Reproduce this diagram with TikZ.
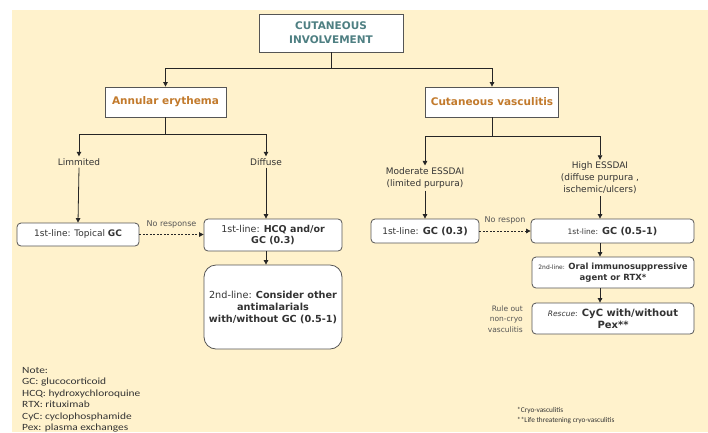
\documentclass[tikz,border=0pt]{standalone}
\usepackage{fontspec}
\setmainfont{DejaVu Sans}
\newfontfamily\notefont[FakeStretch=1.2]{Carlito}
\newfontfamily\footfont{Carlito}
\usetikzlibrary{arrows.meta}

\definecolor{bgcream}{HTML}{FFF2CC}
\definecolor{titleteal}{HTML}{4E7F82}
\definecolor{headorange}{HTML}{C27A2C}
\definecolor{edgegrey}{HTML}{555555}
\definecolor{textgrey}{HTML}{333333}
\definecolor{softgrey}{HTML}{555555}

\newcommand{\fs}[1]{\fontsize{#1}{#1}\selectfont}

\tikzset{
  box/.style={draw=edgegrey, fill=white, line width=0.8pt, rounded corners=4pt,
    align=center, inner sep=1pt, text=textgrey,
    font=\fontsize{9.5}{11.5}\selectfont},
  headbox/.style={draw=edgegrey, fill=white, line width=0.8pt, align=center,
    inner sep=2pt, text=headorange, font=\bfseries\fontsize{10.5}{12}\selectfont},
  lbl/.style={align=center, inner sep=2pt, text=textgrey,
    font=\fontsize{9}{12}\selectfont},
  small/.style={align=center, inner sep=1pt, text=softgrey,
    font=\fontsize{8}{9}\selectfont},
  wire/.style={draw=black!85, line width=0.8pt},
  link/.style={wire, -{Triangle[length=4.5pt,width=4.5pt]}},
  dlink/.style={link, dash pattern=on 2pt off 1.5pt},
}

\begin{document}
\begin{tikzpicture}[x=1pt, y=-1pt]
  \useasboundingbox (0,0) rectangle (708,432);
  \fill[bgcream] (12,10) rectangle (708,432);

  % root
  \node[draw=edgegrey, fill=white, line width=0.8pt, minimum width=144pt,
        minimum height=38pt, align=center, text=titleteal,
        font=\bfseries\fontsize{10.5}{14}\selectfont] (top) at (331,33)
        {CUTANEOUS\\INVOLVEMENT};

  % two branches
  \node[headbox, minimum width=121pt, minimum height=30pt] (annular) at (165.5,102) {Annular erythema};
  \node[headbox, minimum width=133pt, minimum height=30pt] (vasc) at (492,102) {Cutaneous vasculitis};

  \coordinate (jt) at (331,68);
  \draw[wire] (top.south) -- (jt);
  \draw[link] (jt) -| (annular.north);
  \draw[link] (jt) -| (vasc.north);

  % annular erythema
  \node[lbl] (limm) at (79,162) {Limmited};
  \node[lbl] (diff) at (266,162) {Diffuse};
  \coordinate (ja) at (165.5,134);
  \draw[wire] (annular.south) -- (ja);
  \draw[link] (ja) -| (limm.north);
  \draw[link] (ja) -| (diff.north);

  \node[box, minimum width=122pt, minimum height=23pt, font=\fs{9}] (topical) at (78,234.5)
    {1st-line: Topical \textbf{GC}};
  \node[box, minimum width=138pt, minimum height=32pt] (hcq) at (273,235)
    {1st-line: \textbf{HCQ and/or}\\\textbf{GC (0.3)}};
  \node[box, rounded corners=12pt, minimum width=138pt, minimum height=84pt,
        font=\fontsize{9.7}{12}\selectfont] (second) at (273,307)
    {2nd-line: \textbf{Consider other}\\\textbf{antimalarials}\\\textbf{with/without GC (0.5-1)}};

  \draw[link] (limm.south) -- (topical.north);
  \draw[link] (diff.south) -- (diff.south |- hcq.north);
  \draw[link] (hcq.south -| diff) -- (second.north -| diff);
  \draw[dlink] (topical.east) -- (topical.east -| hcq.west)
    node[small, midway, above=5pt] {No response};

  % cutaneous vasculitis
  \node[lbl] (mod) at (425,178) {Moderate ESSDAI\\(limited purpura)};
  \node[lbl] (high) at (600,178) {High ESSDAI\\(diffuse purpura ,\\ischemic/ulcers)};
  \coordinate (jv) at (492,136);
  \draw[wire] (vasc.south) -- (jv);
  \draw[link] (jv) -| (mod.north);
  \draw[link] (jv) -| (high.north);

  \node[box, minimum width=108pt, minimum height=24pt] (gc03) at (425,231)
    {{\fs{9}1st-line:} {\fs{9.8}\textbf{GC (0.3)}}};
  \node[box, minimum width=163pt, minimum height=24pt] (gc051) at (612.5,231)
    {{\fs{7.5}1st-line:} {\fs{9.7}\textbf{GC (0.5-1)}}};
  \node[box, minimum width=162pt, minimum height=31pt, font=\fontsize{8.5}{11}\selectfont] (oral) at (613,272.5)
    {{\fs{6}2nd-line:} \textbf{Oral immunosuppressive}\\\textbf{agent or RTX*}};
  \node[box, minimum width=162pt, minimum height=31pt, font=\fontsize{10}{12}\selectfont] (rescue) at (613,318.5)
    {{\fs{7.5}\textit{Rescue}:} \textbf{CyC with/without}\\\textbf{Pex**}};

  \draw[link] (mod.south) -- (gc03.north);
  \draw[link] (high.south) -- (high.south |- gc051.north);
  \draw[link] (gc051.south -| high) -- (oral.north -| high);
  \draw[link] (oral.south -| high) -- (rescue.north -| high);
  \draw[dlink] (gc03.east) -- (gc03.east -| gc051.west)
    node[small, midway, above=5pt] {No respon};

  \node[small, align=right, anchor=east, font=\fontsize{7.5}{10.5}\selectfont] (ruleout) at (524,319)
    {Rule out\\non-cryo\\vasculitis};

  % abbreviations
  \node[anchor=north west, align=left, inner sep=0pt, text=textgrey,
        font=\notefont\fontsize{9.5}{11.5}\selectfont] (notes) at (22,367)
    {Note:\\GC: glucocorticoid\\HCQ: hydroxychloroquine\\RTX: rituximab\\CyC: cyclophosphamide\\Pex: plasma exchanges};

  \node[anchor=north west, align=left, inner sep=0pt, text=textgrey,
        font=\footfont\fontsize{7.3}{10}\selectfont] (foot) at (517,407)
    {*Cryo-vasculitis\\**Life threatening cryo-vasculitis};
\end{tikzpicture}
\end{document}
